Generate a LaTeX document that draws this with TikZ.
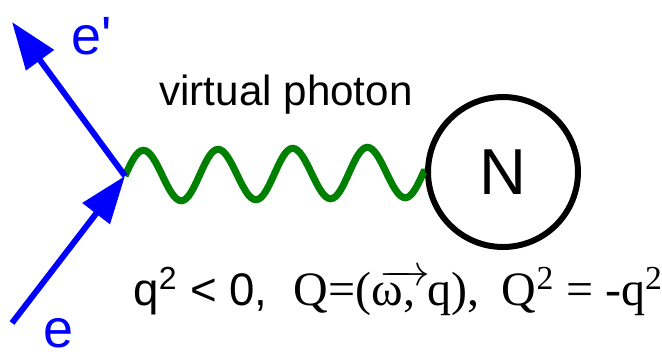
\documentclass[tikz,border=0pt]{standalone}
\usepackage{fontspec}
\setmainfont{Liberation Sans}
\newfontfamily\seriffont{Liberation Serif}
\usetikzlibrary{arrows.meta,decorations}

\pgfdeclaredecoration{photonwave}{initial}{
  \state{initial}[width=\pgfdecorationsegmentlength]{
    \pgfpathsine{\pgfpoint{.25\pgfdecorationsegmentlength}{\pgfdecorationsegmentamplitude}}
    \pgfpathcosine{\pgfpoint{.25\pgfdecorationsegmentlength}{-\pgfdecorationsegmentamplitude}}
    \pgfpathsine{\pgfpoint{.25\pgfdecorationsegmentlength}{-\pgfdecorationsegmentamplitude}}
    \pgfpathcosine{\pgfpoint{.25\pgfdecorationsegmentlength}{\pgfdecorationsegmentamplitude}}
  }
  \state{final}{\pgfpathlineto{\pgfpointdecoratedpathlast}}
}

\tikzset{
  lepton/.style={draw=blue,line width=3.4pt,-{Triangle[length=27pt,width=19pt]}},
  photon/.style={draw=green!50!black,line width=4pt,decorate,
    decoration={photonwave,segment length=42.5pt,amplitude=14.5pt}},
  label/.style={font=\fontsize{30.7}{34}\selectfont,text=blue,inner sep=0pt}
}

\begin{document}
\begin{tikzpicture}[x=0.02cm,y=-0.02cm]
  \useasboundingbox (0,0) rectangle (662,360);
  \coordinate (v) at (125,176);
  \coordinate (ein) at (12,323);
  \coordinate (eout) at (12,22);
  \node[circle,draw,line width=3.4pt,minimum size=3cm,inner sep=0pt,
        font=\fontsize{37}{40}\selectfont] (N) at (503,172) {N};
  \draw[photon] (v) -- (N.west);
  \draw[lepton] (ein) -- (v);
  \draw[lepton] (v) -- (eout);
  \node[label] (e) at (58,333) {e};
  \node[label] (ep) at (92,36) {e\textquotesingle};
  \node[font=\fontsize{24}{28}\selectfont,anchor=base] (vp) at (286,105) {virtual photon};
  \node[anchor=base west,inner sep=0pt] (kin) at (133,305)
    {\fontsize{26}{30}\selectfont q\textsuperscript{2} < 0,\hspace{15pt}%
     {\seriffont\fontsize{27.3}{32}\selectfont Q=(ω, \llap{\raisebox{0.45em}{$\overrightarrow{\hspace{29pt}}$}\kern-2pt}q),\hspace{13pt}%
     Q\textsuperscript{2} = -q\textsuperscript{2}}};
\end{tikzpicture}
\end{document}
